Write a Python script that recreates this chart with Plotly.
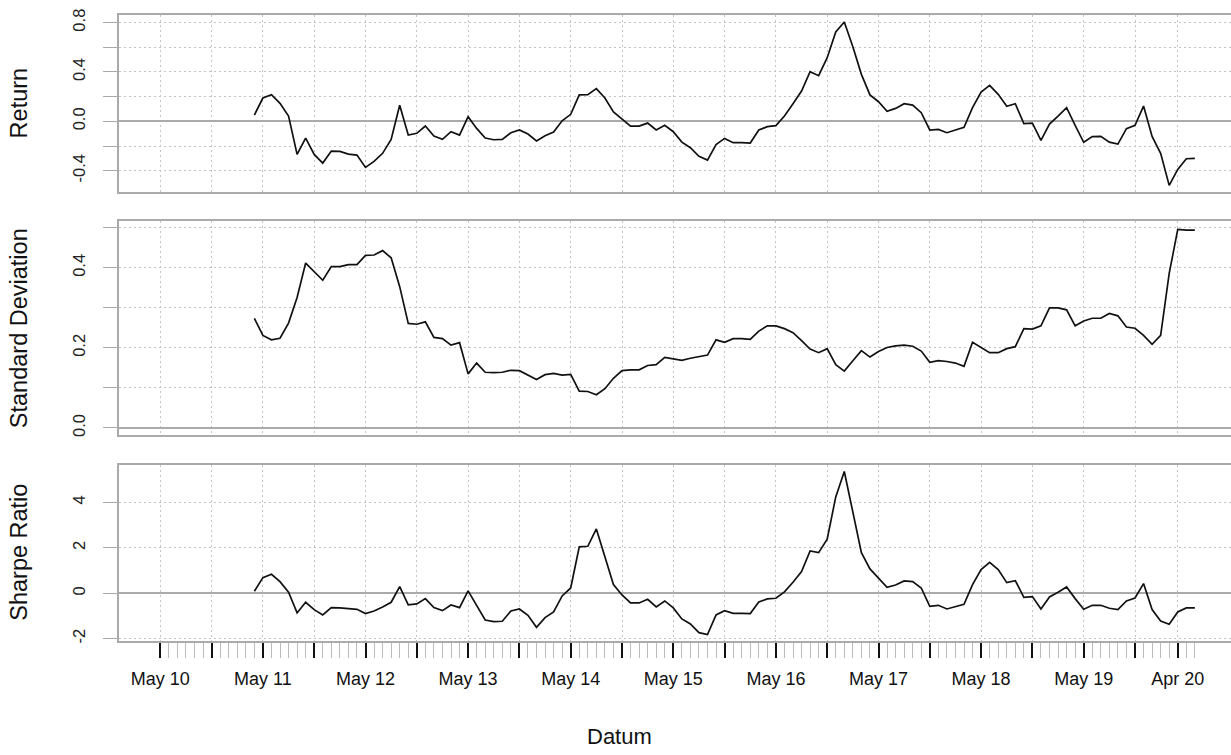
import plotly.graph_objects as go
import pandas as pd

# ---------------- data ----------------
months = pd.date_range("2011-04-01", periods=111, freq="MS")

ret = [0.051, 0.189, 0.216, 0.146, 0.043, -0.268, -0.135, -0.268, -0.338, -0.241,
       -0.243, -0.265, -0.273, -0.373, -0.324, -0.259, -0.146, 0.130, -0.111, -0.097,
       -0.038, -0.119, -0.146, -0.084, -0.111, 0.038, -0.057, -0.135, -0.149, -0.146,
       -0.092, -0.070, -0.103, -0.159, -0.116, -0.086, 0.005, 0.057, 0.214, 0.216,
       0.265, 0.189, 0.076, 0.019, -0.038, -0.038, -0.014, -0.070, -0.032, -0.084,
       -0.168, -0.214, -0.284, -0.314, -0.189, -0.138, -0.173, -0.173, -0.176, -0.070,
       -0.043, -0.035, 0.043, 0.143, 0.246, 0.403, 0.370, 0.516, 0.724, 0.805,
       0.605, 0.381, 0.214, 0.159, 0.081, 0.105, 0.143, 0.132, 0.070, -0.070,
       -0.065, -0.092, -0.073, -0.049, 0.111, 0.238, 0.292, 0.219, 0.122, 0.143,
       -0.019, -0.014, -0.154, -0.022, 0.043, 0.111, -0.032, -0.170, -0.124, -0.122,
       -0.168, -0.184, -0.059, -0.032, 0.124, -0.122, -0.259, -0.519, -0.389, -0.303,
       -0.300]

sd = [0.274, 0.231, 0.220, 0.224, 0.262, 0.326, 0.412, 0.390, 0.369, 0.403,
      0.403, 0.408, 0.408, 0.431, 0.432, 0.443, 0.425, 0.353, 0.261, 0.259,
      0.265, 0.226, 0.223, 0.207, 0.213, 0.135, 0.162, 0.139, 0.138, 0.139,
      0.144, 0.143, 0.131, 0.121, 0.133, 0.136, 0.132, 0.134, 0.092, 0.091,
      0.083, 0.098, 0.124, 0.143, 0.145, 0.145, 0.156, 0.158, 0.176, 0.173,
      0.169, 0.174, 0.178, 0.182, 0.220, 0.214, 0.223, 0.223, 0.221, 0.242,
      0.255, 0.255, 0.248, 0.238, 0.218, 0.197, 0.188, 0.198, 0.158, 0.142,
      0.168, 0.193, 0.177, 0.191, 0.201, 0.205, 0.207, 0.204, 0.192, 0.164,
      0.168, 0.166, 0.162, 0.154, 0.214, 0.200, 0.188, 0.188, 0.198, 0.203,
      0.248, 0.247, 0.255, 0.300, 0.300, 0.295, 0.255, 0.267, 0.274, 0.274,
      0.286, 0.280, 0.252, 0.249, 0.231, 0.209, 0.231, 0.386, 0.496, 0.494,
      0.494]

sharpe = [0.088, 0.690, 0.837, 0.514, 0.044, -0.866, -0.396, -0.720, -0.954, -0.631,
          -0.646, -0.690, -0.705, -0.896, -0.778, -0.602, -0.396, 0.294, -0.514, -0.470,
          -0.235, -0.631, -0.764, -0.514, -0.631, 0.103, -0.529, -1.175, -1.248, -1.233,
          -0.778, -0.690, -0.969, -1.498, -1.072, -0.822, -0.117, 0.235, 2.041, 2.070,
          2.834, 1.630, 0.382, -0.073, -0.426, -0.426, -0.264, -0.602, -0.338, -0.646,
          -1.131, -1.351, -1.733, -1.821, -0.954, -0.764, -0.881, -0.881, -0.896, -0.382,
          -0.250, -0.220, 0.059, 0.485, 0.954, 1.865, 1.791, 2.379, 4.244, 5.360,
          3.568, 1.791, 1.072, 0.675, 0.264, 0.367, 0.543, 0.514, 0.235, -0.573,
          -0.529, -0.690, -0.587, -0.485, 0.382, 1.043, 1.366, 1.043, 0.470, 0.558,
          -0.176, -0.147, -0.690, -0.162, 0.044, 0.279, -0.235, -0.705, -0.529, -0.529,
          -0.661, -0.720, -0.338, -0.206, 0.426, -0.720, -1.219, -1.366, -0.822, -0.646,
          -0.646]

tick_months = ["2010-05", "2010-11", "2011-05", "2011-11", "2012-05", "2012-11",
               "2013-05", "2013-11", "2014-05", "2014-11", "2015-05", "2015-11",
               "2016-05", "2016-11", "2017-05", "2017-11", "2018-05", "2018-11",
               "2019-05", "2019-11", "2020-04"]
tick_text = ["May 10", "", "May 11", "", "May 12", "", "May 13", "", "May 14", "",
             "May 15", "", "May 16", "", "May 17", "", "May 18", "", "May 19", "",
             "Apr 20"]
axis_months = pd.date_range("2010-05-01", "2020-06-01", freq="MS")

ret_ticks = [-0.4, -0.2, 0.0, 0.2, 0.4, 0.6, 0.8]
ret_text = ["-0.4", "", "0.0", "", "0.4", "", "0.8"]
sd_ticks = [0.0, 0.1, 0.2, 0.3, 0.4, 0.5]
sd_text = ["0.0", "", "0.2", "", "0.4", ""]
sr_ticks = [-2, 0, 2, 4]
sr_text = ["-2", "0", "2", "4"]

panel_titles = ["Return", "Standard Deviation", "Sharpe Ratio"]

# ---------------- helpers ----------------
origin = pd.Timestamp("2010-05-01")


def midx(ts):
    ts = pd.Timestamp(ts)
    return (ts.year - origin.year) * 12 + (ts.month - origin.month)


xs = [midx(m) for m in months]
major_x = [midx(m) for m in tick_months]
minor_x = [midx(m) for m in axis_months if midx(m) not in major_x]

FONT = "Liberation Sans, Arial, Helvetica, sans-serif"
BOX = "#aaaaaa"
GRID = "#c4c4c4"
DOT = "2px,3px"

fig = go.Figure()
series = [ret, sd, sharpe]
for k, vals in enumerate(series):
    sfx = "" if k == 0 else str(k + 1)
    fig.add_trace(go.Scatter(x=xs, y=vals, mode="lines",
                             line=dict(color="#111111", width=1.7),
                             xaxis="x" + sfx, yaxis="y" + sfx,
                             showlegend=False, hoverinfo="skip"))

W, H = 1231, 755
L = 119
T = 15
BOT = 640.7
B = H - BOT
R = 0
plot_h = BOT - T
plot_w = W - L - R

def dom(top_px, bot_px):
    return [(BOT - bot_px) / plot_h, (BOT - top_px) / plot_h]

domains = [dom(15, 191.7), dom(221, 435), dom(464.3, 640.7)]
yranges = [[-0.5707, 0.8618], [-0.01825, 0.5168], [-2.101, 5.669]]
yt = [(ret_ticks, ret_text), (sd_ticks, sd_text), (sr_ticks, sr_text)]

# x: May 2010 at px 160.3, 8.55 px per month
xrange_ = [(L - 160.3) / 8.55, (W - 160.3) / 8.55]

layout = dict(
    width=W, height=H,
    margin=dict(l=L, r=R, t=T, b=B, autoexpand=False),
    paper_bgcolor="white", plot_bgcolor="white",
    font=dict(family=FONT, color="#111111"),
    showlegend=False,
)

for k in range(3):
    sfx = "" if k == 0 else str(k + 1)
    bottom = (k == 2)
    xa = dict(
        range=xrange_, domain=[0, 1], anchor="y" + sfx, automargin=False,
        tickmode="array", tickvals=major_x,
        ticktext=tick_text if bottom else [""] * len(major_x),
        showticklabels=bottom,
        showgrid=True, gridcolor=GRID, griddash=DOT, gridwidth=1,
        zeroline=False,
        showline=True, linecolor=BOX, linewidth=1.5, mirror=True,
        ticks="outside" if bottom else "", ticklen=15, tickwidth=1.6,
        tickcolor="#111111", ticklabelstandoff=6,
        tickfont=dict(size=18, family=FONT, color="#111111"),
    )
    if bottom:
        xa["minor"] = dict(tickmode="array", tickvals=minor_x, ticks="outside",
                           ticklen=15, tickwidth=1.4, tickcolor="#bbbbbb",
                           showgrid=False)
    else:
        xa["matches"] = "x3"
    layout["xaxis" + sfx] = xa
    tv, tt = yt[k]
    layout["yaxis" + sfx] = dict(
        range=yranges[k], domain=domains[k], anchor="x" + sfx, automargin=False,
        tickmode="array", tickvals=tv, ticktext=tt,
        tickangle=-90,
        ticks="outside", ticklen=14, tickwidth=1.4, tickcolor=BOX,
        ticklabelstandoff=12,
        tickfont=dict(size=16.5, family=FONT, color="#222222"),
        showgrid=True, gridcolor=GRID, griddash=DOT, gridwidth=1,
        zeroline=True, zerolinecolor=BOX, zerolinewidth=1.5,
        showline=True, linecolor=BOX, linewidth=1.5, mirror=False,
    )

fig.update_layout(**layout)

annotations = []
for k, title in enumerate(panel_titles):
    d = domains[k]
    annotations.append(dict(
        text=title, textangle=-90, xref="paper", yref="paper",
        x=(19 - L) / plot_w, y=(d[0] + d[1]) / 2,
        xanchor="center", yanchor="middle", showarrow=False,
        font=dict(size=23.5, family=FONT, color="#111111")))
annotations.append(dict(
    text="Datum", xref="paper", yref="paper",
    x=(619 - L) / plot_w, y=(BOT - 736) / plot_h,
    xanchor="center", yanchor="middle", showarrow=False,
    font=dict(size=22, family=FONT, color="#111111")))
fig.update_layout(annotations=annotations)

fig.write_html(
    "out.html",
    config={"displayModeBar": False},
    post_script="document.body.style.margin='0';document.body.style.padding='0';"
                "document.body.style.overflow='hidden';",
)
